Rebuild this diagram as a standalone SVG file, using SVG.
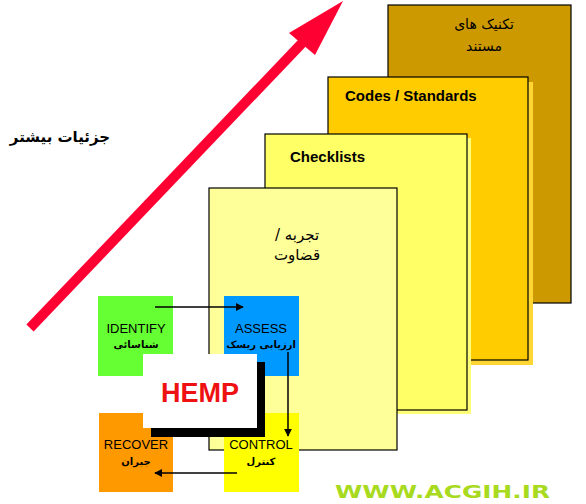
<svg xmlns="http://www.w3.org/2000/svg" width="586" height="504" viewBox="0 0 586 504">
<style>
.card{stroke:#000;stroke-width:1.2}
.lat{font-family:"Liberation Sans",Arial,sans-serif;fill:#000}
.fa{font-family:"DejaVu Sans","Liberation Sans","Noto Sans",sans-serif;fill:#000}
.box{stroke:none}
.conn{stroke:#000;stroke-width:1.5;fill:none;marker-end:url(#ah)}
</style>
<defs>
<marker id="ah" viewBox="0 0 10 10" refX="9" refY="5" markerWidth="8" markerHeight="8" markerUnits="userSpaceOnUse" orient="auto">
<path d="M0,0 L10,5 L0,10 z" fill="#000"/>
</marker>
</defs>
<rect width="586" height="504" fill="#fff"/>

<g id="detail-arrow">
<line x1="30" y1="328" x2="305" y2="40" stroke="#FF0033" stroke-width="10"/>
<polygon points="343,1 315,55 289,33" fill="#FF0033"/>
</g>
<g id="detail-label">
<text x="60" y="142" text-anchor="middle" class="fa" font-size="15" font-weight="bold" direction="rtl">جزئیات بیشتر</text>
</g>

<g id="card-techniques">
<rect x="388" y="5" width="183" height="298" fill="#CC9900" class="card"/>
<text x="484" y="29" text-anchor="middle" class="fa" font-size="14" direction="rtl">تکنیک های</text>
<text x="484" y="51" text-anchor="middle" class="fa" font-size="14" direction="rtl">مستند</text>
</g>
<g id="card-codes">
<rect x="333" y="82" width="200" height="283" fill="#FFD633"/>
<rect x="328" y="77" width="200" height="283" fill="#FFCC00" class="card"/>
<text x="345" y="101" class="lat" font-size="15" font-weight="bold">Codes / Standards</text>
</g>
<g id="card-checklists">
<rect x="269" y="138" width="202" height="276" fill="#FFFF77"/>
<rect x="265" y="134" width="202" height="276" fill="#FFFF66" class="card"/>
<text x="290" y="162" class="lat" font-size="15" font-weight="bold">Checklists</text>
</g>
<g id="card-judgement">
<rect x="209" y="188" width="188" height="262" fill="#FFFF99" class="card"/>
<text x="297" y="240" text-anchor="middle" class="fa" font-size="15" direction="rtl">تجربه /</text>
<text x="297" y="260" text-anchor="middle" class="fa" font-size="15" direction="rtl">قضاوت</text>
</g>

<g id="identify">
<rect x="98" y="296" width="75" height="80" fill="#66FF33" class="box"/>
<text x="136" y="333" text-anchor="middle" class="lat" font-size="13">IDENTIFY</text>
<text x="136" y="348" text-anchor="middle" class="fa" font-size="10" font-weight="bold" direction="rtl">شناسائی</text>
</g>
<g id="assess">
<rect x="224" y="296" width="75" height="80" fill="#0099FF" class="box"/>
<text x="261" y="333" text-anchor="middle" class="lat" font-size="13">ASSESS</text>
<text x="261" y="348" text-anchor="middle" class="fa" font-size="10" font-weight="bold" direction="rtl">ارزیابی ریسک</text>
</g>
<g id="recover">
<rect x="99" y="413" width="74" height="79" fill="#FF9900" class="box"/>
<text x="136" y="449" text-anchor="middle" class="lat" font-size="13">RECOVER</text>
<text x="136" y="465" text-anchor="middle" class="fa" font-size="10" font-weight="bold" direction="rtl">جبران</text>
</g>
<g id="control">
<rect x="224" y="413" width="75" height="79" fill="#FFFF00" class="box"/>
<text x="261" y="449" text-anchor="middle" class="lat" font-size="13">CONTROL</text>
<text x="261" y="465" text-anchor="middle" class="fa" font-size="10" font-weight="bold" direction="rtl">کنترل</text>
</g>

<g id="connectors">
<line x1="155" y1="307" x2="243" y2="307" class="conn"/>
<line x1="288" y1="352" x2="288" y2="436" class="conn"/>
<line x1="237" y1="473" x2="155" y2="473" class="conn"/>
</g>

<g id="hemp">
<rect x="151" y="362" width="114" height="75" fill="#000"/>
<rect x="143" y="354" width="114" height="74" fill="#fff"/>
<text x="200" y="402" text-anchor="middle" font-family="Liberation Sans,Arial,sans-serif" font-size="27" font-weight="bold" fill="#EE1111">HEMP</text>
</g>

<g id="watermark">
<text x="335" y="498" font-family="DejaVu Sans,sans-serif" font-size="17" font-weight="bold" fill="#A8DA20" textLength="215" lengthAdjust="spacingAndGlyphs">WWW.ACGIH.IR</text>
</g>
</svg>
